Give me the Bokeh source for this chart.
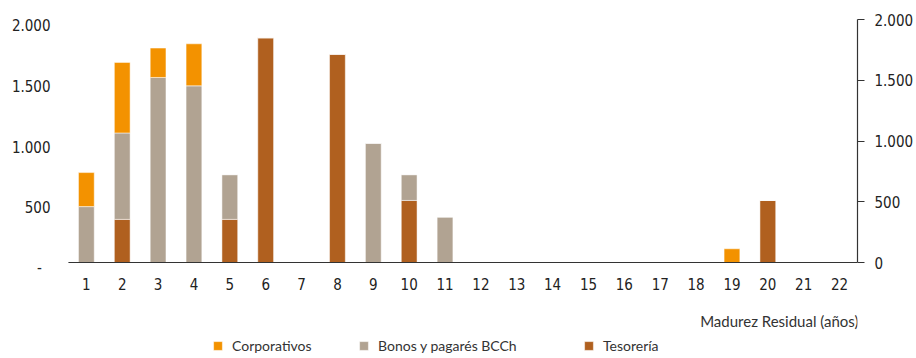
from bokeh.plotting import figure
from bokeh.models import (Range1d, LinearAxis, FixedTicker, Legend, LegendItem,
                          ColumnDataSource, LabelSet, Label)
from bokeh.core.properties import value
from bokeh.embed import file_html
from bokeh.resources import INLINE

# ---- data ----
madurez = [1, 2, 3, 4, 5, 6, 7, 8, 9, 10, 11,
           12, 13, 14, 15, 16, 17, 18, 19, 20, 21, 22]
madurez_labels = ["1", "2", "3", "4", "5", "6", "7", "8", "9", "10", "11",
                  "12", "13", "14", "15", "16", "17", "18", "19", "20", "21", "22"]
tesoreria = [0, 355, 0, 0, 355, 1850, 0, 1715, 0, 511, 0,
             0, 0, 0, 0, 0, 0, 0, 0, 511, 0, 0]
bonos = [460, 711, 1523, 1454, 368, 0, 0, 0, 981, 212, 374,
         0, 0, 0, 0, 0, 0, 0, 0, 0, 0, 0]
corporativos = [280, 581, 242, 346, 0, 0, 0, 0, 0, 0, 0,
                0, 0, 0, 0, 0, 0, 0, 113, 0, 0, 0]
series_names = ["Tesorería", "Bonos y pagarés BCCh", "Corporativos"]
y_ticks = [0, 500, 1000, 1500, 2000]
left_tick_labels = ["-\u2007", "500", "1.000", "1.500", "2.000"]
right_tick_labels = ["0", "500", "1.000", "1.500", "2.000"]
x_axis_title = "Madurez Residual (años)"

# ---- layout / style ----
W, H = 916, 358
plot_left, plot_right = 68, 858      # category band area (px)
base_y, top_y = 262, 19              # pixel rows of 0 and 2000
y_max = 2000
colors = ["#B0601F", "#B1A392", "#F39200"]
num_font = "'DejaVu Sans Condensed', Roboto, sans-serif"
txt_font = "Lato"
dark = "#222222"

n = len(madurez)
px_per_x = (plot_right - plot_left) / n
x_start = madurez[0] - 0.5 - plot_left / px_per_x
x_end = madurez[-1] + 0.5
px_per_y = (base_y - top_y) / y_max
y_start = -(H - base_y) / px_per_y
y_end = base_y / px_per_y

source = ColumnDataSource(dict(x=madurez, tes=tesoreria, bonos=bonos, corp=corporativos))

p = figure(width=W, height=H,
           x_range=Range1d(x_start, x_end), y_range=Range1d(y_start, y_end),
           x_axis_location=None, y_axis_location=None,
           output_backend="svg", toolbar_location=None,
           min_border_left=0, min_border_right=W - plot_right, min_border_top=0,
           min_border_bottom=0, outline_line_color=None)
p.xgrid.visible = False
p.ygrid.visible = False

renderers = p.vbar_stack(["tes", "bonos", "corp"], x="x", width=0.44, source=source,
                         fill_color=colors, line_color="white", line_width=0.5)

# baseline (x axis line)
p.segment(x0=[madurez[0] - 0.5], y0=[0], x1=[madurez[-1] + 0.5], y1=[0],
          line_color="#333333", line_width=1.2)

# x tick labels
xsrc = ColumnDataSource(dict(x=madurez, y=[0] * n, t=madurez_labels))
p.add_layout(LabelSet(x="x", y="y", text="t", source=xsrc, y_offset=-21,
                      text_align="center", text_baseline="middle",
                      text_font=value(num_font), text_font_size="15px",
                      text_color=dark))

# left tick labels (sit slightly below their values, as in the original)
lsrc = ColumnDataSource(dict(y=y_ticks, t=left_tick_labels))
p.add_layout(LabelSet(x=50, y="y", text="t", x_units="screen", y_offset=-5.5,
                      source=lsrc, text_align="right", text_baseline="middle",
                      text_font=value(num_font), text_font_size="15px",
                      text_color=dark))

# right axis
ra = LinearAxis(ticker=FixedTicker(ticks=y_ticks), bounds=(0, y_max))
ra.major_label_overrides = dict(zip(y_ticks, right_tick_labels))
ra.axis_line_color = "#333333"
ra.axis_line_width = 1.2
ra.major_tick_line_color = "#333333"
ra.major_tick_in = 0
ra.major_tick_out = 7
ra.minor_tick_line_color = None
ra.major_label_standoff = 10
ra.major_label_text_font = num_font
ra.major_label_text_font_size = "15px"
ra.major_label_text_color = dark
p.add_layout(ra, "right")

# axis title
p.add_layout(Label(x=plot_right, y=H - 320, x_units="screen", y_units="screen",
                   text=x_axis_title, text_align="right", text_baseline="middle",
                   text_font=txt_font, text_font_size="15px", text_color="#333333"))

# legends (order: Corporativos, Bonos, Tesorería)
legend_x = [212, 358, 583]
order = [2, 1, 0]
for lx, idx in zip(legend_x, order):
    lg = Legend(items=[LegendItem(label=series_names[idx], renderers=[renderers[idx]])],
                location=(lx, H - 354), orientation="horizontal",
                padding=0, margin=0, border_line_color=None,
                background_fill_alpha=0, glyph_width=11, glyph_height=11,
                label_height=11, label_standoff=9, spacing=0,
                label_text_font=txt_font, label_text_font_size="14px",
                label_text_color="#333333")
    p.add_layout(lg)

open("out.html", "w").write(file_html(p, INLINE))
